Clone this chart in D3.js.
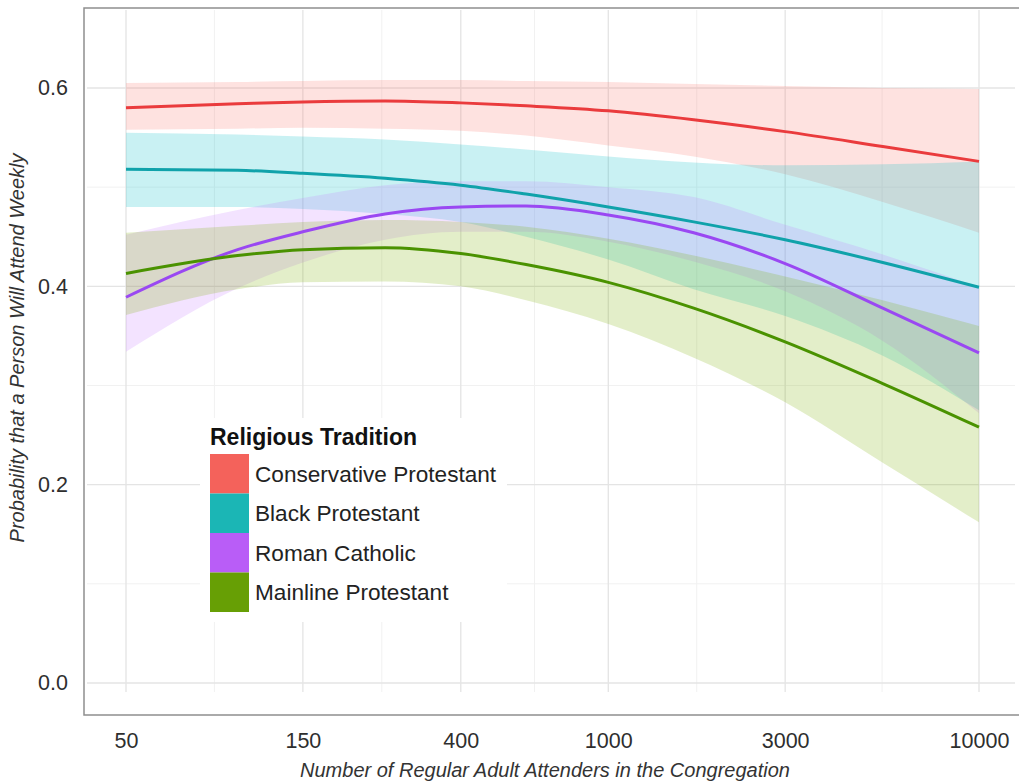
<!DOCTYPE html>
<html>
<head>
<meta charset="utf-8">
<script src="https://cdn.jsdelivr.net/npm/d3@7"></script>
<style>
  html, body { margin: 0; padding: 0; background: #fff; }
  svg { display: block; font-family: "Liberation Sans", Arial, Helvetica, sans-serif; }
</style>
</head>
<body>
<svg id="chart" width="1019" height="784"></svg>
<script>
var attenders = [50, 100, 150, 250, 400, 600, 1000, 1700, 3000, 5500, 10000];

var consFit  = [0.580, 0.584, 0.586, 0.587, 0.585, 0.582, 0.577, 0.568, 0.556, 0.541, 0.526];
var consHi   = [0.605, 0.606, 0.607, 0.608, 0.608, 0.607, 0.606, 0.604, 0.602, 0.600, 0.599];
var consLo   = [0.558, 0.559, 0.560, 0.559, 0.557, 0.552, 0.542, 0.531, 0.513, 0.485, 0.454];

var blackFit = [0.518, 0.517, 0.514, 0.509, 0.502, 0.493, 0.480, 0.465, 0.447, 0.424, 0.399];
var blackHi  = [0.555, 0.553, 0.551, 0.548, 0.543, 0.538, 0.531, 0.525, 0.522, 0.523, 0.526];
var blackLo  = [0.480, 0.480, 0.478, 0.473, 0.465, 0.450, 0.427, 0.397, 0.370, 0.330, 0.275];

var cathFit  = [0.389, 0.437, 0.455, 0.473, 0.480, 0.481, 0.472, 0.454, 0.423, 0.378, 0.333];
var cathHi   = [0.452, 0.477, 0.489, 0.502, 0.506, 0.506, 0.500, 0.490, 0.462, 0.432, 0.399];
var cathLo   = [0.334, 0.398, 0.424, 0.447, 0.455, 0.455, 0.445, 0.425, 0.395, 0.345, 0.272];

var mainFit  = [0.413, 0.431, 0.437, 0.439, 0.433, 0.422, 0.404, 0.378, 0.344, 0.302, 0.258];
var mainHi   = [0.454, 0.461, 0.465, 0.467, 0.465, 0.460, 0.448, 0.431, 0.410, 0.386, 0.360];
var mainLo   = [0.371, 0.397, 0.404, 0.405, 0.400, 0.386, 0.362, 0.328, 0.283, 0.222, 0.162];

var traditions = ["Conservative Protestant", "Black Protestant", "Roman Catholic", "Mainline Protestant"];
var xTicks = [50, 150, 400, 1000, 3000, 10000];
var yTicks = [0.0, 0.2, 0.4, 0.6];

var series = [
    {name: traditions[0], fit: consFit,  hi: consHi,  lo: consLo,  fill: "#F8766D", line: "#ea3b3d", key: "#f4625b"},
    {name: traditions[1], fit: blackFit, hi: blackHi, lo: blackLo, fill: "#00BFC4", line: "#10a2aa", key: "#1bb6b5"},
    {name: traditions[2], fit: cathFit,  hi: cathHi,  lo: cathLo,  fill: "#C77CFF", line: "#9a48f2", key: "#b95df7"},
    {name: traditions[3], fit: mainFit,  hi: mainHi,  lo: mainLo,  fill: "#7CAE00", line: "#4a9200", key: "#679f05"}
];

var panel = {left: 84, top: 8, right: 1021, bottom: 715};

var svg = d3.select("#chart");

var x = d3.scaleLog().domain([50, 10000]).range([126, 979]);
var y = d3.scaleLinear().domain([0, 0.6]).range([683, 88]);

// grid
var grid = svg.append("g");
var minorX = [];
for (var i = 0; i < xTicks.length - 1; i++) {
    minorX.push(Math.sqrt(xTicks[i] * xTicks[i + 1]));
}
var minorY = [0.1, 0.3, 0.5];

grid.selectAll("line.minx").data(minorX).enter().append("line")
    .attr("x1", function(d) { return x(d); })
    .attr("x2", function(d) { return x(d); })
    .attr("y1", panel.top + 2).attr("y2", 692)
    .attr("stroke", "#f1f1f1").attr("stroke-width", 1);
grid.selectAll("line.miny").data(minorY).enter().append("line")
    .attr("x1", panel.left + 3).attr("x2", 1015)
    .attr("y1", function(d) { return y(d); })
    .attr("y2", function(d) { return y(d); })
    .attr("stroke", "#f1f1f1").attr("stroke-width", 1);
grid.selectAll("line.majx").data(xTicks).enter().append("line")
    .attr("x1", function(d) { return x(d); })
    .attr("x2", function(d) { return x(d); })
    .attr("y1", panel.top + 2).attr("y2", 692)
    .attr("stroke", "#e4e4e4").attr("stroke-width", 1.3);
grid.selectAll("line.majy").data(yTicks).enter().append("line")
    .attr("x1", panel.left + 3).attr("x2", 1015)
    .attr("y1", function(d) { return y(d); })
    .attr("y2", function(d) { return y(d); })
    .attr("stroke", "#e4e4e4").attr("stroke-width", 1.3);

// ribbons and fitted lines
var area = d3.area()
    .x(function(d) { return x(d.n); })
    .y0(function(d) { return y(d.lo); })
    .y1(function(d) { return y(d.hi); })
    .curve(d3.curveMonotoneX);

var line = d3.line()
    .x(function(d) { return x(d.n); })
    .y(function(d) { return y(d.fit); })
    .curve(d3.curveMonotoneX);

series.forEach(function(s) {
    s.points = attenders.map(function(n, i) {
        return {n: n, fit: s.fit[i], hi: s.hi[i], lo: s.lo[i]};
    });
});

svg.append("g").selectAll("path").data(series).enter().append("path")
    .attr("d", function(s) { return area(s.points); })
    .attr("fill", function(s) { return s.fill; })
    .attr("fill-opacity", 0.21);

svg.append("g").selectAll("path").data(series).enter().append("path")
    .attr("d", function(s) { return line(s.points); })
    .attr("fill", "none")
    .attr("stroke", function(s) { return s.line; })
    .attr("stroke-width", 3);

// panel border
svg.append("rect")
    .attr("x", panel.left).attr("y", panel.top)
    .attr("width", panel.right - panel.left)
    .attr("height", panel.bottom - panel.top)
    .attr("fill", "none")
    .attr("stroke", "#8e8e8e")
    .attr("stroke-width", 1.5);

// axes
var xAxis = svg.append("g")
    .attr("transform", "translate(0," + panel.bottom + ")")
    .call(d3.axisBottom(x).tickValues(xTicks).tickFormat(d3.format("d")).tickSize(0).tickPadding(18));
var yAxis = svg.append("g")
    .attr("transform", "translate(" + panel.left + ",0)")
    .call(d3.axisLeft(y).tickValues(yTicks).tickFormat(d3.format(".1f")).tickSize(0).tickPadding(16));
[xAxis, yAxis].forEach(function(a) {
    a.select(".domain").remove();
    a.selectAll("text")
        .attr("fill", "#2e2e2e")
        .style("font-size", "21.5px")
        .style("font-family", "\"Liberation Sans\", Arial, sans-serif");
});

svg.append("text")
    .attr("x", 545).attr("y", 777)
    .attr("text-anchor", "middle")
    .attr("fill", "#333")
    .style("font-size", "20px")
    .style("font-style", "italic")
    .text("Number of Regular Adult Attenders in the Congregation");

svg.append("text")
    .attr("transform", "translate(24,348) rotate(-90)")
    .attr("text-anchor", "middle")
    .attr("fill", "#333")
    .style("font-size", "20px")
    .style("font-style", "italic")
    .text("Probability that a Person Will Attend Weekly");

// legend
var legend = svg.append("g");
legend.append("rect")
    .attr("x", 200).attr("y", 418).attr("width", 307).attr("height", 204)
    .attr("fill", "#fff");
legend.append("text")
    .attr("x", 210).attr("y", 445)
    .attr("fill", "#111")
    .style("font-size", "23px")
    .style("font-weight", "bold")
    .text("Religious Tradition");
var keyH = 39.5;
var items = legend.selectAll("g.item").data(series).enter().append("g")
    .attr("transform", function(d, i) { return "translate(210," + (454 + i * keyH) + ")"; });
items.append("rect")
    .attr("width", 39).attr("height", keyH)
    .attr("fill", function(d) { return d.key; });
items.append("text")
    .attr("x", 45).attr("y", keyH / 2)
    .attr("dy", "0.36em")
    .attr("fill", "#222")
    .style("font-size", "22.6px")
    .text(function(d) { return d.name; });
</script>
</body>
</html>
